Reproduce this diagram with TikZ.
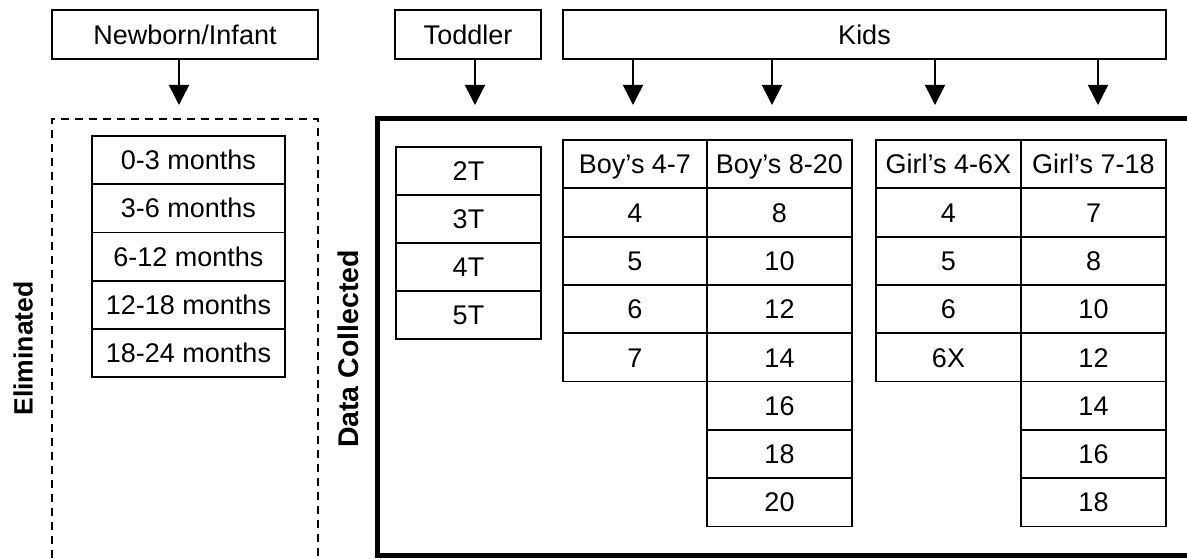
\documentclass[tikz,border=0pt]{standalone}
\usepackage{fontspec}
\setmainfont{Liberation Sans}
\usetikzlibrary{arrows.meta}
\begin{document}
\begin{tikzpicture}[x=1pt,y=-1pt,
  every node/.style={font=\fontsize{27}{32}\selectfont, text height=19.3pt, text depth=0pt, inner sep=0pt},
  hdr/.style={draw, line width=1.8pt, minimum height=49pt},
  cellbox/.style={draw, line width=1.8pt, minimum height=48.3pt},
  arr/.style={line width=1.5pt, -{Triangle[length=20pt,width=20pt]}},
  side/.style={rotate=90}
]
\clip (0,0) rectangle (1187,559);
\fill[white] (0,0) rectangle (1187,559);

% headers
\node[hdr, minimum width=266pt] (nb) at (185,34.5) {Newborn/Infant};
\node[hdr, minimum width=146pt] (tod) at (468,34.5) {Toddler};
\node[hdr, minimum width=603pt] (kids) at (864.5,34.5) {Kids};

% arrow tips
\coordinate (tN) at (179,105);
\coordinate (tT) at (475,105);
\coordinate (tK1) at (633,105);
\coordinate (tK2) at (772,105);
\coordinate (tK3) at (935,105);
\coordinate (tK4) at (1098,105);
\draw[arr] (tN |- nb.south) -- (tN);
\draw[arr] (tT |- tod.south) -- (tT);
\draw[arr] (tK1 |- kids.south) -- (tK1);
\draw[arr] (tK2 |- kids.south) -- (tK2);
\draw[arr] (tK3 |- kids.south) -- (tK3);
\draw[arr] (tK4 |- kids.south) -- (tK4);

% eliminated region
\draw[line width=1.6pt, dash pattern=on 8pt off 6pt] (52,600) -- (52,119) -- (318,119) -- (318,600);
\node[side, font=\fontsize{26.5}{32}\selectfont\bfseries, text height=19pt] (elim) at (23,348.5) {Eliminated};
\foreach \t [count=\i] in {0-3 months,3-6 months,6-12 months,12-18 months,18-24 months}
  \node[cellbox, minimum height=48.2pt, minimum width=193pt] (m\i) at (188.5,{136+48.2*(\i-0.5)}) {\t};

% data collected region
\draw[line width=5.5pt] (377.5,118.5) rectangle (1220,555.5);
\node[side, font=\fontsize{28.5}{34}\selectfont\bfseries, text height=20.5pt] (dc) at (348.5,349) {Data Collected};

\foreach \t [count=\i] in {2T,3T,4T,5T}
  \node[cellbox, minimum height=48pt, minimum width=145pt] (td\i) at (468.5,{147+48*(\i-0.5)}) {\t};

\foreach \t [count=\i] in {Boy’s 4-7,4,5,6,7}
  \node[cellbox, minimum width=144pt] (ba\i) at (635,{140+48.3*(\i-0.5)}) {\t};
\foreach \t [count=\i] in {Boy’s 8-20,8,10,12,14,16,18,20}
  \node[cellbox, minimum width=145pt] (bb\i) at (779.5,{140+48.3*(\i-0.5)}) {\t};
\foreach \t [count=\i] in {Girl’s 4-6X,4,5,6,6X}
  \node[cellbox, minimum width=145pt] (ga\i) at (948.5,{140+48.3*(\i-0.5)}) {\t};
\foreach \t [count=\i] in {Girl’s 7-18,7,8,10,12,14,16,18}
  \node[cellbox, minimum width=145pt] (gb\i) at (1093.5,{140+48.3*(\i-0.5)}) {\t};
\end{tikzpicture}
\end{document}
